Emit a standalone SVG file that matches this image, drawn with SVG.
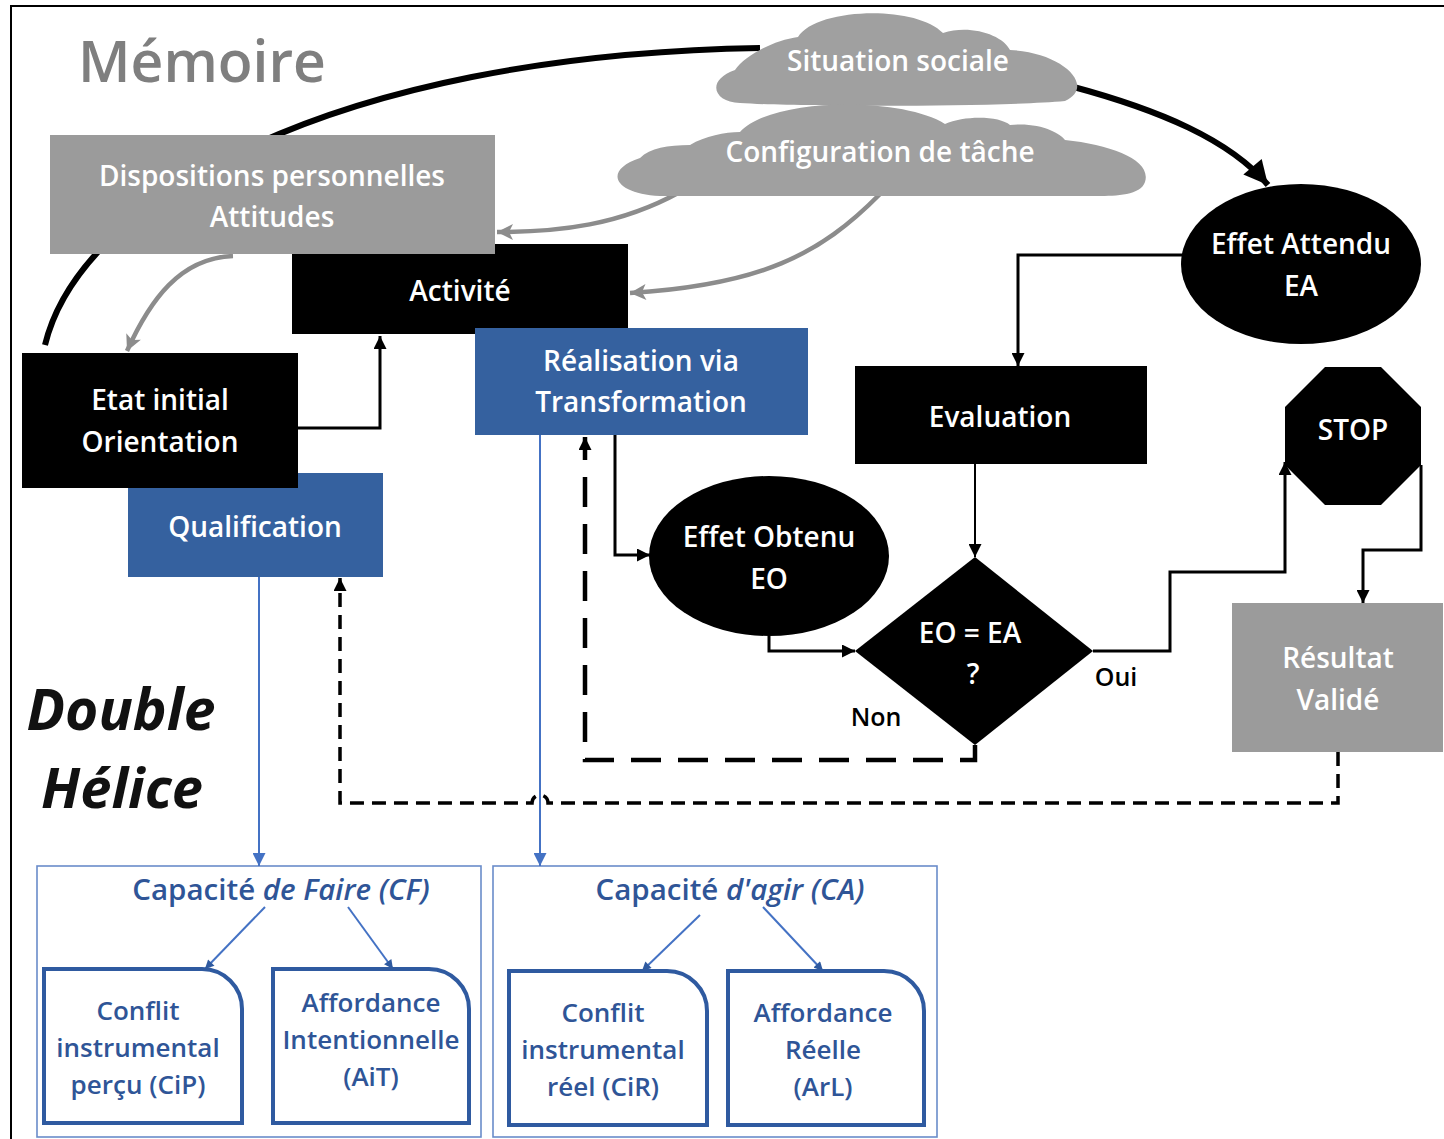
<svg xmlns="http://www.w3.org/2000/svg" width="1444" height="1139" viewBox="0 0 1444 1139">
<style>
text{font-family:"Open Sans","Noto Sans","Liberation Sans",sans-serif;font-weight:600;text-anchor:middle}
.w{fill:#fff;font-size:28px}
.k{fill:#000;font-size:25px}
.b{fill:#2f5597;font-size:26px}
.t{fill:#2f5597;font-size:29.5px}
.it{font-style:italic}
.blk{fill:#000}
.blu{fill:#35619f}
.gry{fill:#9b9b9b}
.cl{fill:#a0a0a0}
.inner{fill:#fff;stroke:#2f5aa0;stroke-width:4}
.cont{fill:#fff;stroke:#6a8cca;stroke-width:1.6}
.cb{fill:none;stroke:#000;stroke-width:3}
.cg{fill:none;stroke:#8c8c8c;stroke-width:4.5}
.cbl{fill:none;stroke:#4472c4;stroke-width:2}
</style>
<defs>
<marker id="aK" viewBox="0 0 10 10" refX="10" refY="5" markerUnits="userSpaceOnUse" markerWidth="15" markerHeight="13" orient="auto"><path d="M0,0 L10,5 L0,10 z" fill="#000"/></marker>
<marker id="aBig" viewBox="0 0 10 10" refX="10" refY="5" markerUnits="userSpaceOnUse" markerWidth="28" markerHeight="24" orient="auto"><path d="M0,0 L10,5 L0,10 z" fill="#000"/></marker>
<marker id="aG" viewBox="0 0 10 10" refX="10" refY="5" markerUnits="userSpaceOnUse" markerWidth="18" markerHeight="16" orient="auto"><path d="M0,0 L10,5 L0,10 L2.5,5 z" fill="#8c8c8c"/></marker>
<marker id="aB" viewBox="0 0 10 10" refX="10" refY="5" markerUnits="userSpaceOnUse" markerWidth="15" markerHeight="13" orient="auto"><path d="M0,0 L10,5 L0,10 z" fill="#4472c4"/></marker>
<marker id="aBs" viewBox="0 0 10 10" refX="10" refY="5" markerUnits="userSpaceOnUse" markerWidth="10" markerHeight="9" orient="auto"><path d="M0,0 L10,5 L0,10 z" fill="#2f5aa0"/></marker>
</defs>
<rect width="1444" height="1139" fill="#fff"/>
<path d="M11,1139 V6 H1444" fill="none" stroke="#000" stroke-width="2"/>

<text x="202" y="82" style="font-size:57px;fill:#7f7f7f">Mémoire</text>
<text x="121" y="730" class="it" style="font-size:57px;font-weight:700;fill:#111">Double</text>
<text x="122" y="808" class="it" style="font-size:56px;font-weight:700;fill:#111">Hélice</text>

<g id="containers">
<rect class="cont" x="37" y="866" width="444" height="271"/>
<rect class="cont" x="493" y="866" width="444" height="271"/>
</g>

<g id="connectors">
<path class="cb" style="stroke-width:6" d="M45,345 C80,200 330,55 760,48"/>
<path class="cb" style="stroke-width:6" marker-end="url(#aBig)" d="M1070,86 C1160,110 1230,140 1268,185"/>
<path class="cg" marker-end="url(#aG)" d="M680,192 C620,225 560,232 497,232"/>
<path class="cg" marker-end="url(#aG)" d="M880,194 C820,255 760,285 630,293"/>
<path class="cg" marker-end="url(#aG)" d="M233,256 C180,258 150,300 127,351"/>
<path class="cb" marker-end="url(#aK)" d="M298,428 H380 V336"/>
<path class="cb" marker-end="url(#aK)" d="M615,435 V555 H650"/>
<path class="cb" marker-end="url(#aK)" d="M1183,255 H1018 V366"/>
<path class="cb" style="stroke-width:2" marker-end="url(#aK)" d="M975,464 V557"/>
<path class="cb" marker-end="url(#aK)" d="M769,636 V651 H855"/>
<path class="cb" marker-end="url(#aK)" d="M1093,651 H1170 V572 H1285 V462"/>
<path class="cb" marker-end="url(#aK)" d="M1421,465 V550 H1363 V603"/>
<path class="cb" style="stroke-width:4.5;stroke-dasharray:30 17" marker-end="url(#aK)" d="M975,745 V760 H585 V437"/>
<path class="cb" style="stroke-width:3.5;stroke-dasharray:14 8" marker-end="url(#aK)" d="M1338,752 V803 H548 A8,8 0 0 0 532,803 H340 V578"/>
<path class="cbl" marker-end="url(#aB)" d="M259,577 V866"/>
<path class="cbl" marker-end="url(#aB)" d="M540,435 V866"/>
<path class="cbl" marker-end="url(#aBs)" d="M265,907 L205,969"/>
<path class="cbl" marker-end="url(#aBs)" d="M348,907 L393,969"/>
<path class="cbl" marker-end="url(#aBs)" d="M700,915 L642,971"/>
<path class="cbl" marker-end="url(#aBs)" d="M763,907 L823,971"/>
</g>

<g id="situation-sociale">
<path class="cl" d="M740,103 C713,102 706,80 735,70 C745,55 775,40 798,37 C815,8 915,4 943,33 C970,24 1003,35 1010,50 C1062,52 1097,86 1065,101 C1000,107 800,107 740,103 Z"/>
<text class="w" x="898" y="71">Situation sociale</text>
</g>

<g id="configuration-tache">
<path class="cl" d="M660,196 C613,194 603,170 640,158 C650,148 668,145 690,145 C705,136 725,132 740,132 C770,98 900,96 945,124 C965,115 1000,116 1010,125 C1040,122 1060,133 1065,140 C1112,145 1152,160 1145,182 C1140,197 1110,196 1090,196 Z"/>
<text class="w" x="880" y="162">Configuration de tâche</text>
</g>

<g id="activite">
<rect class="blk" x="292" y="244" width="336" height="90"/>
<text class="w" x="460" y="301">Activité</text>
</g>

<g id="dispositions">
<rect class="gry" x="50" y="135" width="445" height="119"/>
<text class="w" x="272" y="186">Dispositions personnelles</text>
<text class="w" x="272" y="227">Attitudes</text>
</g>

<g id="realisation">
<rect class="blu" x="475" y="328" width="333" height="107"/>
<text class="w" x="641" y="371">Réalisation via</text>
<text class="w" x="641" y="412">Transformation</text>
</g>

<g id="qualification">
<rect class="blu" x="128" y="473" width="255" height="104"/>
<text class="w" x="255" y="537">Qualification</text>
</g>

<g id="etat-initial">
<rect class="blk" x="22" y="353" width="276" height="135"/>
<text class="w" x="160" y="410">Etat initial</text>
<text class="w" x="160" y="452">Orientation</text>
</g>

<g id="effet-attendu">
<ellipse class="blk" cx="1301" cy="264" rx="120" ry="80"/>
<text class="w" x="1301" y="254">Effet Attendu</text>
<text class="w" x="1301" y="296">EA</text>
</g>

<g id="evaluation">
<rect class="blk" x="855" y="366" width="292" height="98"/>
<text class="w" x="1000" y="427">Evaluation</text>
</g>

<g id="stop">
<polygon class="blk" points="1325,367 1381,367 1421,407 1421,465 1381,505 1325,505 1285,465 1285,407"/>
<text class="w" x="1353" y="440">STOP</text>
</g>

<g id="effet-obtenu">
<ellipse class="blk" cx="769" cy="556" rx="120" ry="80"/>
<text class="w" x="769" y="547">Effet Obtenu</text>
<text class="w" x="769" y="589">EO</text>
</g>

<g id="decision">
<polygon class="blk" points="975,557 1093,651 975,745 855,651"/>
<text class="w" x="970" y="643">EO = EA</text>
<text class="w" x="973" y="684">?</text>
<text class="k" x="1116" y="686">Oui</text>
<text class="k" x="876" y="726">Non</text>
</g>

<g id="resultat">
<rect class="gry" x="1232" y="603" width="211" height="149"/>
<text class="w" x="1338" y="668">Résultat</text>
<text class="w" x="1338" y="710">Validé</text>
</g>

<g id="cf-title"><text class="t" x="281" y="900">Capacité <tspan class="it">de Faire (CF)</tspan></text></g>
<g id="ca-title"><text class="t" x="730" y="900">Capacité <tspan class="it">d'agir (CA)</tspan></text></g>

<g id="cip">
<path class="inner" d="M44,969 H202 A40,40 0 0 1 242,1009 V1123 H44 Z"/>
<text class="b" x="138" y="1020">Conflit</text>
<text class="b" x="138" y="1057">instrumental</text>
<text class="b" x="138" y="1094">perçu (CiP)</text>
</g>
<g id="ait">
<path class="inner" d="M273,969 H429 A40,40 0 0 1 469,1009 V1123 H273 Z"/>
<text class="b" x="371" y="1012">Affordance</text>
<text class="b" x="371" y="1049">Intentionnelle</text>
<text class="b" x="371" y="1086">(AiT)</text>
</g>
<g id="cir">
<path class="inner" d="M509,971 H667 A40,40 0 0 1 707,1011 V1125 H509 Z"/>
<text class="b" x="603" y="1022">Conflit</text>
<text class="b" x="603" y="1059">instrumental</text>
<text class="b" x="603" y="1096">réel (CiR)</text>
</g>
<g id="arl">
<path class="inner" d="M728,971 H884 A40,40 0 0 1 924,1011 V1125 H728 Z"/>
<text class="b" x="823" y="1022">Affordance</text>
<text class="b" x="823" y="1059">Réelle</text>
<text class="b" x="823" y="1096">(ArL)</text>
</g>
</svg>
